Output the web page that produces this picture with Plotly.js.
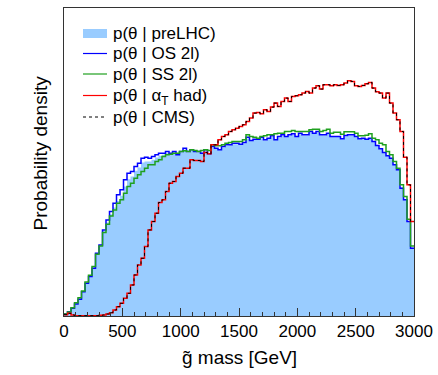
<!DOCTYPE html>
<html>
<head>
<meta charset="utf-8">
<script src="https://cdn.plot.ly/plotly-3.0.1.min.js"></script>
<style>html,body{margin:0;padding:0;background:#fff;}#chart{width:438px;height:375px;}</style>
</head>
<body>
<div id="chart"></div>
<script>
// gluino mass histogram: 100 bins of 30 GeV from 0 to 3000 GeV
const massMin = 0;
const massMax = 3000;
const nBins = 100;

const seriesNames = ["p(θ | preLHC)", "p(θ | OS 2l)", "p(θ | SS 2l)", "p(θ | α<sub>T</sub> had)", "p(θ | CMS)"];

// probability density (arbitrary units)
const preLHC = [
  6, 13, 24, 38, 52, 74, 100, 120, 145, 186, 210, 254,
  280, 305, 325, 345, 360, 388, 410, 418, 435, 445, 460, 463, 463,
  468, 475, 480, 483, 488, 485, 490, 483, 490, 498, 490, 495, 492, 490, 490, 495, 486, 505, 502, 498, 505, 510, 512, 515,
  515, 513, 518, 532, 525, 528, 528, 533, 527, 531, 537, 528, 535, 540, 537, 541, 544, 538, 545, 541, 541, 550, 546,
  550, 542, 541, 546, 537, 537, 537, 530, 539, 541, 541, 536, 530, 531, 529, 531, 522, 510, 500, 490, 480, 473, 453, 438, 386, 350, 285, 205
];
const os2l = [
  6, 13, 23, 36, 50, 73, 98, 118, 143, 188, 213, 258, 288, 313, 338, 363, 378, 408, 428, 433, 448, 458, 473, 476, 473,
  478, 483, 488, 488, 493, 488, 493, 483, 493, 503, 493, 498, 493, 493, 488, 498, 486, 508, 503, 498, 508, 513, 513, 518,
  518, 515, 520, 536, 526, 530, 530, 536, 528, 533, 540, 528, 538, 543, 538, 543, 546, 538, 548, 543, 543, 553, 548, 553,
  543, 543, 548, 538, 538, 538, 531, 541, 543, 543, 538, 531, 533, 530, 533, 523, 511, 501, 490, 480, 473, 453, 438, 383, 348, 283, 203
];
const ss2l = [
  6, 12, 25, 40, 55, 75, 102, 122, 148, 185, 210, 250, 275, 300, 318, 338, 348, 368, 388, 398, 413, 423, 433, 443, 453,
  453, 463, 468, 478, 483, 485, 488, 488, 493, 495, 493, 498, 496, 493, 496, 498, 496, 513, 510, 510, 513, 518, 520, 523,
  523, 523, 528, 543, 538, 536, 533, 538, 540, 543, 543, 546, 548, 548, 553, 553, 556, 553, 553, 553, 553, 558, 560,
  560, 553, 556, 560, 548, 551, 551, 545, 552, 552, 552, 548, 540, 540, 542, 546, 533, 528, 518, 513, 493, 483, 463, 443, 393, 358, 290, 210
];
const alphaT = [
  4, 8, 3, 1, 1, 1, 1, 1, 1, 1, 2, 3,
  6, 10, 18, 28, 38, 53, 68, 93, 123, 153, 173, 208, 258,
  283, 308, 340, 348, 373, 398, 403, 418, 428, 443, 443, 468, 466, 466, 463, 490, 486, 513, 513, 528, 538, 543, 553, 558,
  563, 568, 573, 583, 593, 608, 610, 606, 618, 613, 626, 638, 628, 643, 653, 643, 658, 660, 663, 668, 673, 668, 683, 690, 680,
  693, 693, 690, 693, 691, 693, 698, 705, 703, 690, 688, 691, 696, 700, 683, 672, 668, 653, 668, 638, 608, 588, 553, 476, 393, 283
];
const cms = [
  4, 8, 3, 1, 1, 1, 1, 1, 1, 1, 2, 3,
  6, 10, 18, 28, 38, 53, 68, 93, 123, 153, 173, 208, 258,
  283, 308, 340, 348, 373, 398, 403, 418, 428, 443, 443, 468, 466, 466, 463, 490, 486, 513, 513, 528, 538, 543, 553, 558,
  563, 568, 573, 583, 593, 608, 610, 606, 618, 613, 626, 638, 628, 643, 653, 643, 658, 660, 663, 668, 673, 668, 683, 690, 680,
  693, 693, 690, 693, 691, 693, 698, 705, 703, 690, 688, 691, 696, 700, 683, 672, 668, 653, 668, 638, 608, 588, 553, 476, 393, 283
];

const tickVals = [0, 500, 1000, 1500, 2000, 2500, 3000];
const tickText = ["0", "500", "1000", "1500", "2000", "2500", "3000"];

// styles
const FONT = "Liberation Sans, Arial, Helvetica, sans-serif";
const FILL = "#99ccff";
const lineColors = [FILL, "#0000ff", "#1fa01f", "#ff0000", "#000000"];
const lineWidths = [0, 1.5, 1.5, 1.5, 1];
const lineDash = ["solid", "solid", "solid", "solid", "dot"];

// step-histogram helpers (bin edges + repeated last value so the last bin is drawn)
const binW = (massMax - massMin) / nBins;
const edges = [];
for (let i = 0; i <= nBins; i++) edges.push(massMin + i * binW);
function stepY(arr) { return arr.concat([arr[arr.length - 1]]); }

const seriesData = [preLHC, os2l, ss2l, alphaT, cms];
const traces = seriesData.map((arr, k) => {
  const t = {x: edges, y: stepY(arr), name: seriesNames[k], type: "scatter", mode: "lines",
             line: {shape: "hv", width: lineWidths[k], color: lineColors[k], dash: lineDash[k]}};
  if (k === 0) { t.fill = "tozeroy"; t.fillcolor = FILL; }
  return t;
});

// custom legend geometry (pixels in the 438x375 page -> paper coords)
const plotL = 64, plotR = 414, plotT = 8, plotB = 316;
const px = v => (v - plotL) / (plotR - plotL);
const py = v => (plotB - v) / (plotB - plotT);
const legRowY = [33.5, 53.5, 74, 95.5, 117];
const legTextY = [33.5, 53.5, 74, 97, 117];
const legX0 = 83, legX1 = 107, legTextX = 111;

const shapes = [];
const annotations = [];
seriesNames.forEach((nm, k) => {
  if (k === 0) {
    shapes.push({type: "rect", xref: "paper", yref: "paper", x0: px(legX0), x1: px(legX1),
                 y0: py(legRowY[k] + 4.5), y1: py(legRowY[k] - 4.5), fillcolor: FILL, line: {width: 0}});
  } else {
    shapes.push({type: "line", xref: "paper", yref: "paper", x0: px(legX0), x1: px(legX1),
                 y0: py(legRowY[k]), y1: py(legRowY[k]),
                 line: {color: lineColors[k], width: k === 4 ? 1 : 1.2, dash: lineDash[k]}});
  }
  annotations.push({text: nm, xref: "paper", yref: "paper", x: px(legTextX), y: py(legTextY[k]),
                    xanchor: "left", yanchor: "middle", showarrow: false,
                    font: {family: FONT, size: 17, color: "#000"}});
});
annotations.push({text: "g\u0303 mass [GeV]", xref: "paper", yref: "paper", x: 0.5, y: py(358),
                  xanchor: "center", yanchor: "middle", showarrow: false, font: {family: FONT, size: 19, color: "#000"}});
annotations.push({text: "Probability density", xref: "paper", yref: "paper", x: px(40), y: py(153.5), textangle: -90,
                  xanchor: "center", yanchor: "middle", showarrow: false, font: {family: FONT, size: 19, color: "#000"}});

const layout = {
  width: 438, height: 375,
  margin: {l: plotL, r: 438 - plotR, t: plotT, b: 375 - plotB},
  paper_bgcolor: "#ffffff", plot_bgcolor: "#ffffff",
  font: {family: FONT, color: "#000000", size: 17},
  showlegend: false,
  xaxis: {range: [massMin, massMax], showline: true, linecolor: "#333", linewidth: 1, mirror: true,
          ticks: "inside", ticklen: 8, tickcolor: "#333", tickvals: tickVals, ticktext: tickText,
          minor: {ticks: "inside", ticklen: 4, dtick: 100, tick0: 0, tickcolor: "#333", showgrid: false},
          showgrid: false, zeroline: false, tickfont: {family: FONT, size: 17, color: "#000"}},
  yaxis: {range: [0, 923], showline: true, linecolor: "#333", linewidth: 1, mirror: true,
          ticks: "", showticklabels: false, showgrid: false, zeroline: false},
  shapes: shapes,
  annotations: annotations
};

Plotly.newPlot("chart", traces, layout, {staticPlot: true, displayModeBar: false});
</script>
</body>
</html>
